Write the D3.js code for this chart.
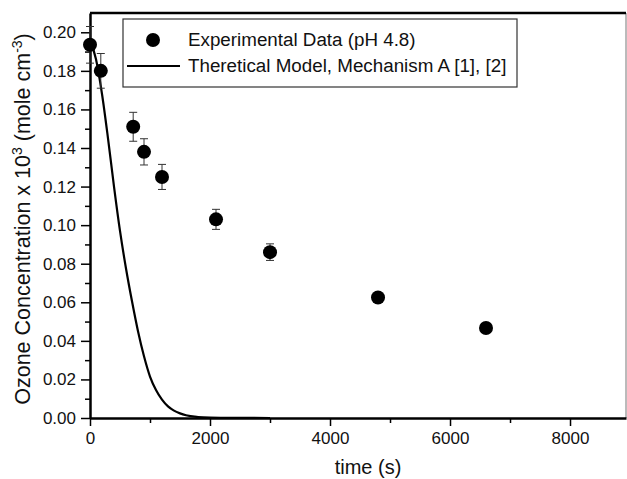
<!DOCTYPE html>
<html>
<head>
<meta charset="utf-8">
<script src="https://cdn.jsdelivr.net/npm/d3@7"></script>
<style>
  body { margin: 0; background: #fff; }
  svg { display: block; font-family: "Liberation Sans", Arial, sans-serif; }
</style>
</head>
<body>
<div class="chart"></div>
<script>
// experimental points (time s, concentration, error)
var expTime = [0, 180, 720, 900, 1200, 2100, 3000, 4800, 6600];
var expConc = [0.1935, 0.180, 0.151, 0.138, 0.125, 0.103, 0.086, 0.0625, 0.0467];
var expErr  = [0.0095, 0.009, 0.0075, 0.0068, 0.0065, 0.0052, 0.0043, 0, 0];

// model curve
var modelTime = [0, 100, 200, 300, 400, 500, 600, 700, 800, 900, 1000, 1100, 1200, 1300, 1400, 1500, 1600, 1800, 2000, 2500, 3000];
var modelConc = [0.196, 0.186, 0.168, 0.145, 0.120, 0.097, 0.0775, 0.0605, 0.045, 0.032, 0.0215, 0.0145, 0.0095, 0.006, 0.0038, 0.0024, 0.0014, 0.0005, 0.0002, 0.00005, 0];

var xTicks = [0, 2000, 4000, 6000, 8000];
var yTicks = [0, 0.02, 0.04, 0.06, 0.08, 0.10, 0.12, 0.14, 0.16, 0.18, 0.20];
var legendLabels = ["Experimental Data (pH 4.8)", "Theretical Model, Mechanism A [1], [2]"];

var W = 627, H = 479;
var margin = {top: 13, right: 1, bottom: 61, left: 90};
var width = W - margin.left - margin.right,
    height = H - margin.top - margin.bottom;

var svg = d3.select("div.chart").append("svg")
    .attr("width", W).attr("height", H);

var g = svg.append("g")
    .attr("transform", "translate(" + margin.left + "," + margin.top + ")");

var x = d3.scaleLinear().domain([0, 8933]).range([0, width]);
var y = d3.scaleLinear().domain([0, 0.21]).range([height, 0]);

// frame: thin right, thick top
g.append("line").attr("x1", width).attr("x2", width).attr("y1", 0).attr("y2", height)
  .attr("stroke", "#777").attr("stroke-width", 1);
g.append("line").attr("x1", 0).attr("x2", width).attr("y1", 0).attr("y2", 0)
  .attr("stroke", "#000").attr("stroke-width", 2.5);

// minor ticks
g.append("g").attr("transform", "translate(0," + height + ")")
  .call(d3.axisBottom(x).tickValues(d3.range(1000, 9000, 2000)).tickSize(5).tickFormat(""))
  .call(function(a) { a.select(".domain").remove(); a.selectAll("line").attr("stroke-width", 1.5); });
g.append("g")
  .call(d3.axisLeft(y).tickValues(d3.range(0.01, 0.21, 0.02)).tickSize(5).tickFormat(""))
  .call(function(a) { a.select(".domain").remove(); a.selectAll("line").attr("stroke-width", 1.5); });

// major axes
var xAxis = g.append("g").attr("transform", "translate(0," + height + ")")
  .call(d3.axisBottom(x).tickValues(xTicks).tickSize(8).tickSizeOuter(0).tickPadding(6).tickFormat(d3.format("d")));
var yAxis = g.append("g")
  .call(d3.axisLeft(y).tickValues(yTicks).tickSize(9).tickSizeOuter(0).tickPadding(5).tickFormat(d3.format(".2f")));

[xAxis, yAxis].forEach(function(a) {
  a.select(".domain").attr("stroke-width", 2.5);
  a.selectAll(".tick line").attr("stroke-width", 1.5);
  a.selectAll(".tick text").attr("font-size", 17).attr("fill", "#111")
   .attr("font-family", "'Liberation Sans', Arial, sans-serif");
});

// axis titles
svg.append("text")
  .attr("x", 368).attr("y", 474)
  .attr("text-anchor", "middle").attr("font-size", 20).attr("fill", "#111")
  .text("time (s)");

var yl = svg.append("text")
  .attr("transform", "translate(30,219) rotate(-90)")
  .attr("text-anchor", "middle").attr("font-size", 21.5).attr("fill", "#111");
yl.append("tspan").text("Ozone Concentration x 10");
yl.append("tspan").attr("dy", -8).attr("font-size", 14).text("3");
yl.append("tspan").attr("dy", 8).text(" (mole cm");
yl.append("tspan").attr("dy", -8).attr("font-size", 14).text("-3");
yl.append("tspan").attr("dy", 8).text(")");

// model line
var line = d3.line()
  .x(function(d, i) { return x(modelTime[i]); })
  .y(function(d) { return y(d); })
  .curve(d3.curveMonotoneX);
g.append("path").datum(modelConc)
  .attr("d", line).attr("fill", "none").attr("stroke", "#000").attr("stroke-width", 2.2);

// error bars
var eb = g.append("g").attr("stroke", "#333").attr("stroke-width", 1);
expTime.forEach(function(t, i) {
  if (!expErr[i]) return;
  var cx = x(t), y1 = y(expConc[i] + expErr[i]), y2 = y(expConc[i] - expErr[i]);
  eb.append("line").attr("x1", cx).attr("x2", cx).attr("y1", y1).attr("y2", y2);
  eb.append("line").attr("x1", cx - 4).attr("x2", cx + 4).attr("y1", y1).attr("y2", y1);
  eb.append("line").attr("x1", cx - 4).attr("x2", cx + 4).attr("y1", y2).attr("y2", y2);
});

// points
g.selectAll("circle.pt").data(expConc).enter().append("circle")
  .attr("class", "pt")
  .attr("cx", function(d, i) { return x(expTime[i]); })
  .attr("cy", function(d) { return y(d); })
  .attr("r", 7).attr("fill", "#000");

// legend
var lg = svg.append("g").attr("transform", "translate(123,19)");
lg.append("rect").attr("width", 394).attr("height", 68)
  .attr("fill", "#fff").attr("stroke", "#333").attr("stroke-width", 1.2);
lg.append("circle").attr("cx", 30).attr("cy", 21).attr("r", 7).attr("fill", "#000");
lg.append("line").attr("x1", 4).attr("x2", 57).attr("y1", 47).attr("y2", 47)
  .attr("stroke", "#000").attr("stroke-width", 2.2);
lg.selectAll("text").data(legendLabels).enter().append("text")
  .attr("x", 65).attr("y", function(d, i) { return 27 + i * 26; })
  .attr("font-size", 18.8).attr("fill", "#111")
  .text(function(d) { return d; });
</script>
</body>
</html>
